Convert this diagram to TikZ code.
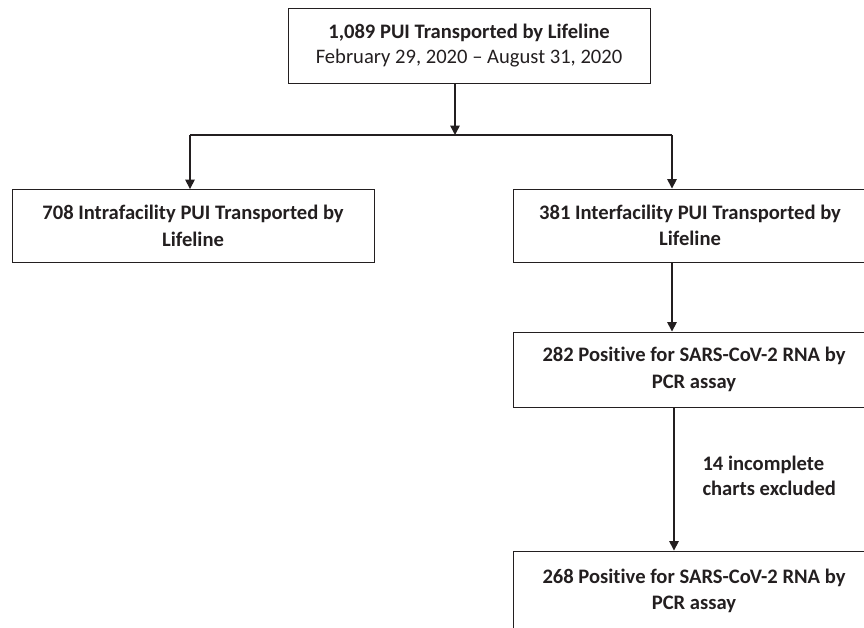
\documentclass[tikz,border=0pt]{standalone}
\usepackage{fontspec}
\setmainfont{Carlito}[Ligatures={TeX,NoCommon}]
\usetikzlibrary{shapes,arrows.meta}
\definecolor{ink}{HTML}{231F20}
\tikzstyle{block} = [rectangle, draw=ink, line width=0.9pt, text=ink,
    minimum width=362pt, minimum height=73pt, align=center,
    font=\fontsize{20.6}{26.5}\selectfont\bfseries]
\tikzstyle{arrow} = [draw=ink, line width=1.5pt, -{Triangle[width=9.5pt,length=9.5pt]}]
\tikzstyle{line} = [draw=ink, line width=1.5pt]

\begin{document}
\begin{tikzpicture}[x=1pt, y=1pt]
		\useasboundingbox (0,0) rectangle (864,-627);
		\clip (0,0) rectangle (864,-627);
		% draw the text boxes first
		\node [block, minimum height=75pt, font=\fontsize{20.6}{25}\selectfont\bfseries] (total) at (469,-45.5)
			{1,089 PUI Transported by Lifeline\\
			{\mdseries February 29, 2020 -- August 31, 2020}};
		\node [block] (intra) at (193,-226) {708 Intrafacility PUI Transported by\\ Lifeline};
		\node [block, minimum width=354pt] (inter) at (690,-225.5) {381 Interfacility PUI Transported by\\ Lifeline};
		\node [block, minimum height=75pt] (positive) at (694,-369.5) {282 Positive for SARS-CoV-2 RNA by\\ PCR assay};
		\node [block, minimum height=80pt] (included) at (694,-591) {268 Positive for SARS-CoV-2 RNA by\\ PCR assay};
		\node [align=left, anchor=west, text=ink, font=\fontsize{20.6}{25}\selectfont\bfseries] (excluded) at (699,-475.5)
			{14 incomplete\\ charts excluded};

		% split points of the tree
		\coordinate (split) at (455,-135);
		\coordinate (splitleft) at (190,-135);
		\coordinate (splitright) at (672,-135);
		\coordinate (chain) at (674,0);

		% draw the edges connecting text boxes
		\draw [arrow] (total.south -| split) -- (split);
		\draw [line] (splitleft) -- (splitright);
		\draw [arrow] (splitleft) -- (splitleft |- intra.north);
		\draw [arrow] (splitright) -- (splitright |- inter.north);
		\draw [arrow] (inter.south -| splitright) -- (positive.north -| splitright);
		\draw [arrow] (positive.south -| chain) -- (included.north -| chain);
	\end{tikzpicture}
\end{document}
